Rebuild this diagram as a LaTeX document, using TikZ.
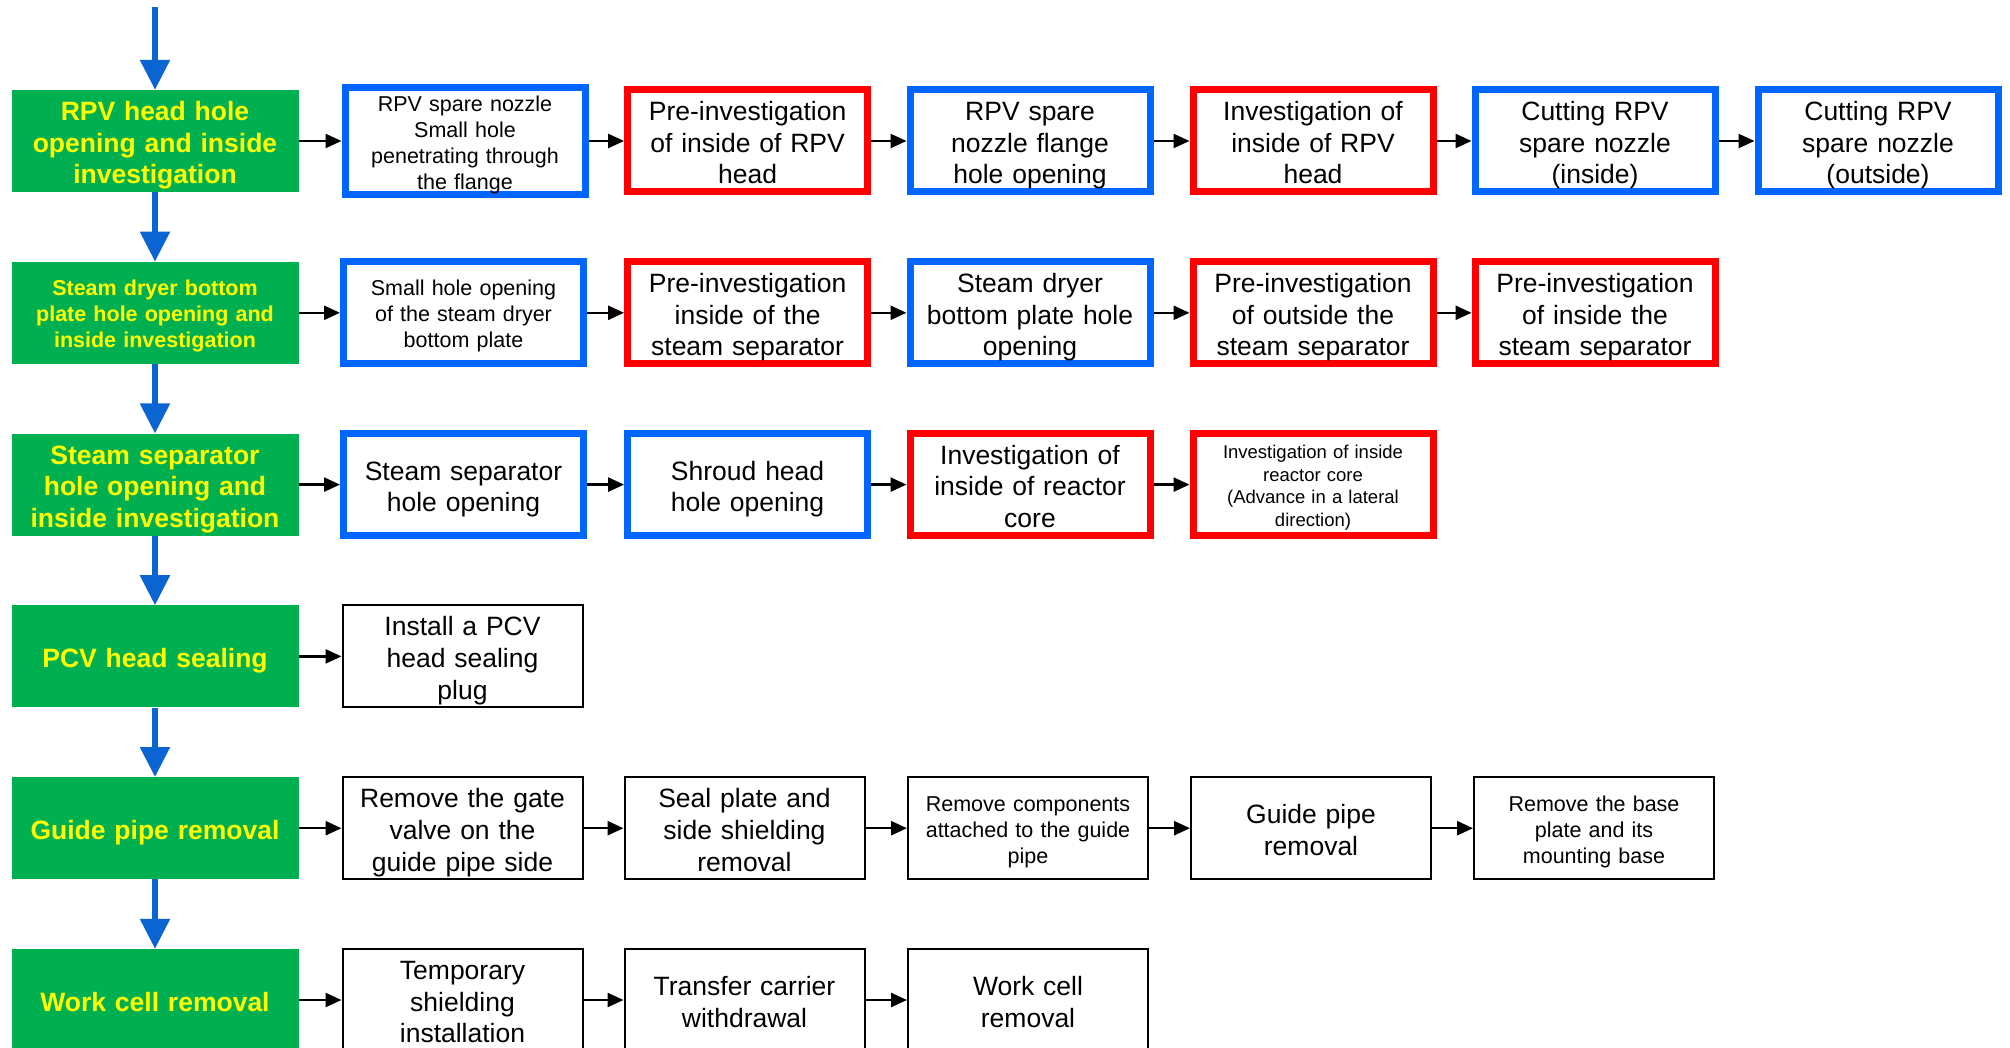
\documentclass[tikz,border=0pt]{standalone}
\usepackage{fontspec}
\setmainfont{Liberation Sans}
\usetikzlibrary{arrows.meta}
\definecolor{stagegreen}{HTML}{00B050}
\definecolor{stageyellow}{HTML}{FFFF00}
\definecolor{opblue}{HTML}{0066FF}
\definecolor{flowblue}{HTML}{0A64D2}
\definecolor{invred}{HTML}{FF0000}
\begin{document}
\begin{tikzpicture}[x=1pt,y=-1pt,
  % fixed struts on the first and last lines so every text block sits alike
  droptext/.style={execute at begin node={\rule{0pt}{1.1em}},
    execute at end node={\rule[-0.25em]{0pt}{0.25em}}},
  stage/.style={fill=stagegreen, draw=none, minimum width=287pt, minimum height=102pt,
    inner sep=0pt, text width=283pt, align=center, text=stageyellow, droptext,
    font=\bfseries\fontsize{26.5}{31.7}\selectfont},
  stagesmall/.style={stage, font=\bfseries\fontsize{21.5}{26}\selectfont},
  task/.style={fill=white, minimum width=240pt, minimum height=102pt, inner sep=0pt,
    text width=236pt, align=center, droptext, font=\fontsize{26.5}{31.7}\selectfont},
  cutbox/.style={task, draw=opblue, line width=7pt},
  lookbox/.style={task, draw=invred, line width=7pt},
  workbox/.style={task, draw=black, line width=2pt},
  small/.style={font=\fontsize{21.5}{26}\selectfont},
  tiny/.style={font=\fontsize{18.5}{22.7}\selectfont},
  down/.style={draw=flowblue, line width=5.5pt, -{Triangle[length=30pt,width=29pt]}},
  next/.style={draw=black, line width=2.5pt, -{Triangle[length=16pt,width=14pt]}},
]
\useasboundingbox (0,0) rectangle (2010,1048);
\clip (0,0) rectangle (2010,1048);

% stages (left column)
\node[stage] (g1) at (155,141) {RPV head hole\\opening and inside\\investigation};
\node[stagesmall] (g2) at (155,312.8) {Steam dryer bottom\\plate hole opening and\\inside investigation};
\node[stage] (g3) at (155,484.6) {Steam separator\\hole opening and\\inside investigation};
\node[stage] (g4) at (155,656.4) {PCV head sealing};
\node[stage] (g5) at (155,828.2) {Guide pipe removal};
\node[stage] (g6) at (155,1000) {Work cell removal};

% row 1
\node[cutbox, small] (a1) at (465,141) {RPV spare nozzle\\Small hole\\penetrating through\\the flange};
\node[lookbox] (a2) at (747.6,141) {Pre-investigation\\of inside of RPV\\head};
\node[cutbox] (a3) at (1030,141) {RPV spare\\nozzle flange\\hole opening};
\node[lookbox] (a4) at (1313,141) {Investigation of\\inside of RPV\\head};
\node[cutbox] (a5) at (1595,141) {Cutting RPV\\spare nozzle\\(inside)};
\node[cutbox] (a6) at (1878,141) {Cutting RPV\\spare nozzle\\(outside)};

% row 2
\node[cutbox, small] (b1) at (463.5,312.8) {Small hole opening\\of the steam dryer\\bottom plate};
\node[lookbox] (b2) at (747.6,312.8) {Pre-investigation\\inside of the\\steam separator};
\node[cutbox] (b3) at (1030,312.8) {Steam dryer\\bottom plate hole\\opening};
\node[lookbox] (b4) at (1313,312.8) {Pre-investigation\\of outside the\\steam separator};
\node[lookbox] (b5) at (1595,312.8) {Pre-investigation\\of inside the\\steam separator};

% row 3
\node[cutbox] (c1) at (463.5,484.6) {Steam separator\\hole opening};
\node[cutbox] (c2) at (747.6,484.6) {Shroud head\\hole opening};
\node[lookbox] (c3) at (1030,484.6) {Investigation of\\inside of reactor\\core};
\node[lookbox, tiny] (c4) at (1313,484.6) {Investigation of inside\\reactor core\\(Advance in a lateral\\direction)};

% row 4
\node[workbox] (d1) at (462.5,656.4) {Install a PCV\\head sealing\\plug};

% row 5
\node[workbox] (e1) at (462.5,828.2) {Remove the gate\\valve on the\\guide pipe side};
\node[workbox] (e2) at (744.5,828.2) {Seal plate and\\side shielding\\removal};
\node[workbox, small] (e3) at (1028,828.2) {Remove components\\attached to the guide\\pipe};
\node[workbox] (e4) at (1311,828.2) {Guide pipe\\removal};
\node[workbox, small] (e5) at (1594,828.2) {Remove the base\\plate and its\\mounting base};

% row 6
\node[workbox] (f1) at (462.5,1000) {Temporary\\shielding\\installation};
\node[workbox] (f2) at (744.5,1000) {Transfer carrier\\withdrawal};
\node[workbox] (f3) at (1028,1000) {Work cell\\removal};

% main flow
\coordinate (entry) at (155,7);
\draw[down] (entry) -- (g1.north);
\draw[down] (g1.south) -- (g2.north);
\draw[down] (g2.south) -- (g3.north);
\draw[down] (g3.south) -- (g4.north);
\draw[down] (g4.south) -- (g5.north);
\draw[down] (g5.south) -- (g6.north);

% step sequences
\draw[next] (g1) -- (a1); \draw[next] (a1) -- (a2); \draw[next] (a2) -- (a3);
\draw[next] (a3) -- (a4); \draw[next] (a4) -- (a5); \draw[next] (a5) -- (a6);
\draw[next] (g2) -- (b1); \draw[next] (b1) -- (b2); \draw[next] (b2) -- (b3);
\draw[next] (b3) -- (b4); \draw[next] (b4) -- (b5);
\draw[next] (g3) -- (c1); \draw[next] (c1) -- (c2); \draw[next] (c2) -- (c3);
\draw[next] (c3) -- (c4);
\draw[next] (g4) -- (d1);
\draw[next] (g5) -- (e1); \draw[next] (e1) -- (e2); \draw[next] (e2) -- (e3);
\draw[next] (e3) -- (e4); \draw[next] (e4) -- (e5);
\draw[next] (g6) -- (f1); \draw[next] (f1) -- (f2); \draw[next] (f2) -- (f3);
\end{tikzpicture}
\end{document}
